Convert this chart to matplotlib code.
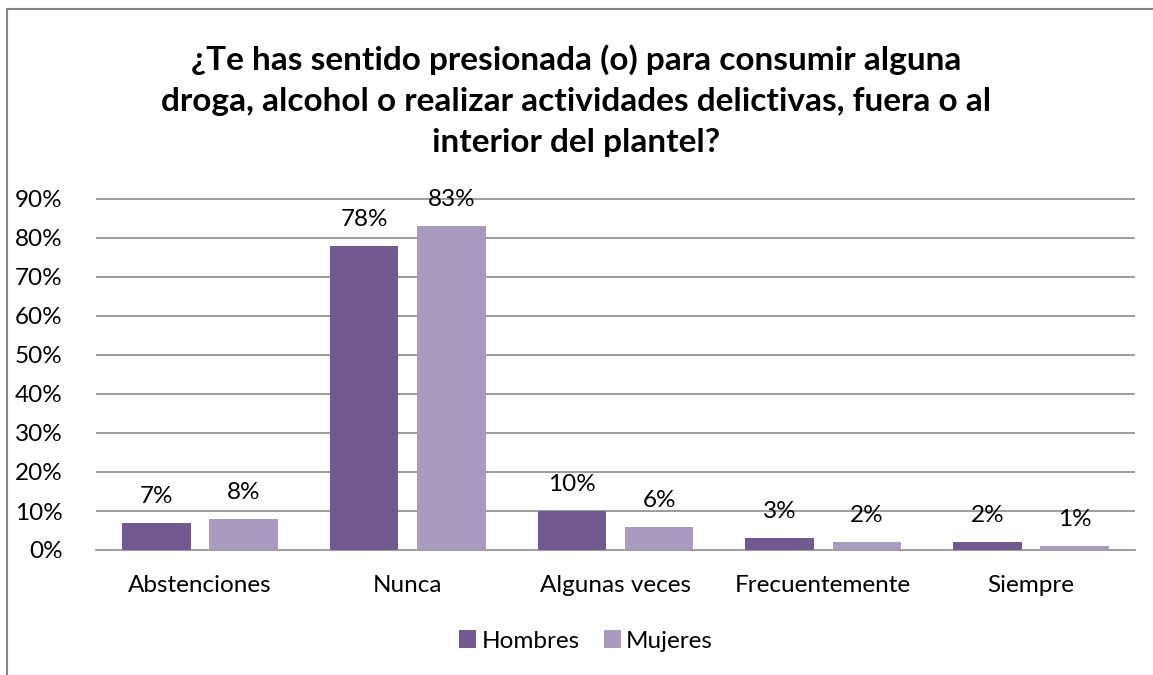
import numpy as np
import matplotlib.pyplot as plt
from matplotlib.patches import Rectangle

categorias = ["Abstenciones", "Nunca", "Algunas veces", "Frecuentemente", "Siempre"]
hombres = [7, 78, 10, 3, 2]
mujeres = [8, 83, 6, 2, 1]
titulo = ("¿Te has sentido presionada (o) para consumir alguna\n"
          "droga, alcohol o realizar actividades delictivas, fuera o al\n"
          "interior del plantel?")

plt.rcParams['font.family'] = ['Lato', 'DejaVu Sans']

c_h = "#725990"
c_m = "#a99bbd"
grid_c = "#8c8c8c"
fs = 17.5

fig = plt.figure(figsize=(11.53, 6.75), dpi=100)
ax = fig.add_axes([96 / 1153, 1 - 550 / 675, (1135 - 96) / 1153, (550 - 199) / 675 * 10 / 9])

x = np.arange(len(categorias))
w = 0.33
off = 0.21
b1 = ax.bar(x - off, hombres, w, color=c_h, label="Hombres", zorder=3)
b2 = ax.bar(x + off, mujeres, w, color=c_m, label="Mujeres", zorder=3)

for bars, vals in ((b1, hombres), (b2, mujeres)):
    for r, v in zip(bars, vals):
        ax.text(r.get_x() + r.get_width() / 2, v + 6.8, f"{v}%", ha="center",
                va="center", fontsize=fs)

ax.set_xlim(-0.5, len(categorias) - 0.5)
ax.set_ylim(0, 100)
ax.set_yticks(range(0, 100, 10))
ax.set_yticklabels([f"{t}%" for t in range(0, 100, 10)], fontsize=fs)
ax.set_xticks(x)
ax.set_xticklabels(categorias, fontsize=fs)
ax.tick_params(axis="x", length=0, pad=18)
ax.tick_params(axis="y", length=0, pad=24)
for t in range(10, 100, 10):
    ax.axhline(t, color=grid_c, lw=1.2, zorder=1)
for s in ["top", "right", "left"]:
    ax.spines[s].set_visible(False)
ax.spines["bottom"].set_color(grid_c)
ax.spines["bottom"].set_linewidth(1.2)

fig.text(0.5, 1 - 101 / 675, titulo, ha="center", va="center", fontsize=24,
         fontweight="bold", linespacing=1.5)

fig.legend(handles=[b1, b2], loc="center", bbox_to_anchor=(586 / 1153, 1 - 641 / 675),
           ncol=2, frameon=False, fontsize=fs, handlelength=0.7, handleheight=0.7,
           columnspacing=1.0, handletextpad=0.2)

fig.add_artist(Rectangle((7 / 1153, -0.1), 1.2, 1 - 9 / 675 + 0.1, transform=fig.transFigure,
                         fill=False, edgecolor="#868686", lw=1.5))

fig.savefig("out.png", dpi=100)
